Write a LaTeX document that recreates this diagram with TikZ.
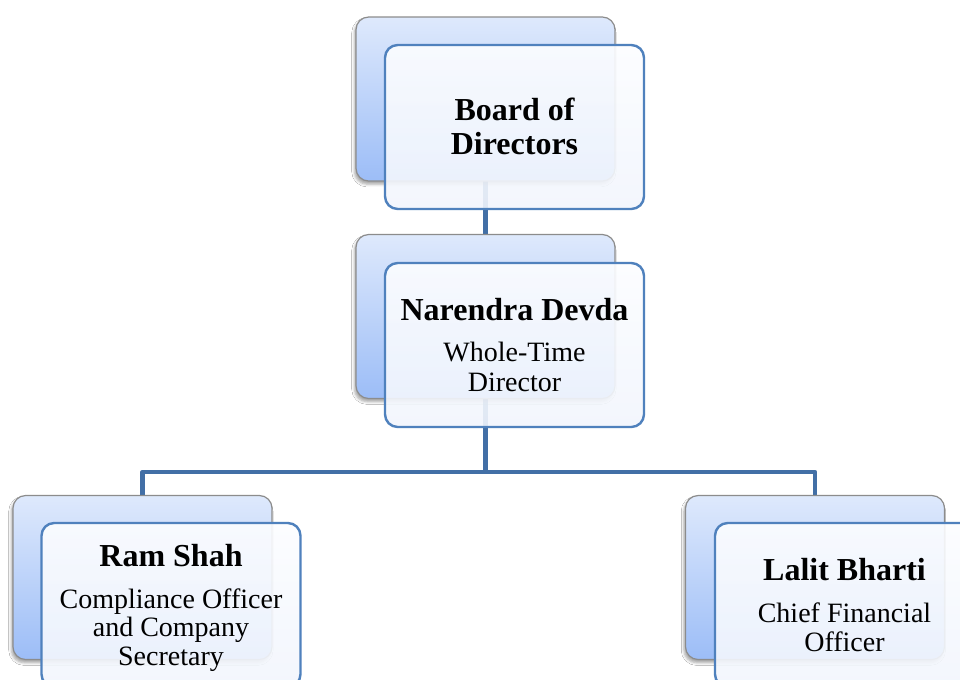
\documentclass[tikz,border=0pt]{standalone}
\usepackage{fontspec}
\setmainfont{Liberation Serif}
\usetikzlibrary{shadows.blur}
\definecolor{conncol}{RGB}{66,111,166}
\definecolor{frontborder}{RGB}{79,129,189}
\definecolor{backtop}{RGB}{222,233,252}
\definecolor{backbot}{RGB}{156,189,247}
\definecolor{backborder}{RGB}{140,140,140}
\definecolor{fronttop}{RGB}{252,253,255}
\definecolor{frontbot}{RGB}{242,246,253}
\tikzset{
  conn/.style={draw=conncol, line width=3.2pt, line join=round},
  backbox/.style={rectangle, rounded corners=9.5pt, draw=backborder, line width=0.9pt,
    top color=backtop, bottom color=backbot, minimum width=194.25pt, minimum height=123pt,
    inner sep=0pt, blur shadow={shadow xshift=-1.2pt, shadow yshift=-2.4pt, shadow blur radius=2pt, shadow opacity=35}},
  frontbox/.style={rectangle, rounded corners=9.5pt, draw=frontborder, line width=1.8pt,
    top color=fronttop, bottom color=frontbot, fill opacity=0.9, minimum width=194.25pt,
    minimum height=123pt, inner sep=0pt},
  titletxt/.style={anchor=base, inner sep=0pt, font=\fontsize{24}{26}\selectfont\bfseries},
  roletxt/.style={anchor=base, inner sep=0pt, font=\fontsize{21}{23}\selectfont},
}
\begin{document}
\begin{tikzpicture}[x=0.75pt,y=-0.75pt]
\useasboundingbox (0,0) rectangle (960,679);
\clip (0,0) rectangle (960,679);
\fill[white] (0,0) rectangle (960,679);

% coordinates for connectors
\coordinate (bodC) at (485.5,99);
\coordinate (wtdC) at (485.5,316.5);
\coordinate (bar) at (485.5,472);
\coordinate (ramC) at (142.5,577.5);
\coordinate (cfoC) at (815,577.5);

% connectors (behind boxes)
\draw[conn] (bodC) -- (wtdC);
\draw[conn] (wtdC) -- (bar) -| (ramC);
\draw[conn] (bar) -| (cfoC);

% Board of Directors
\node[backbox] (bodB) at (bodC) {};
\node[frontbox] (bodF) at (514.5,127) {};
\node[titletxt] (bodT1) at (514.5,120.7) {Board of};
\node[titletxt] (bodT2) at (514.5,154) {Directors};

% Narendra Devda
\node[backbox] (wtdB) at (wtdC) {};
\node[frontbox] (wtdF) at (514.5,345) {};
\node[titletxt] (wtdT1) at (514.5,320) {Narendra Devda};
\node[roletxt] (wtdT2) at (514.5,361.7) {Whole-Time};
\node[roletxt] (wtdT3) at (514.5,391.7) {Director};

% Ram Shah
\node[backbox] (ramB) at (ramC) {};
\node[frontbox] (ramF) at (171,605) {};
\node[titletxt] (ramT1) at (171,566) {Ram Shah};
\node[roletxt] (ramT2) at (171,608) {Compliance Officer};
\node[roletxt] (ramT3) at (171,636.7) {and Company};
\node[roletxt] (ramT4) at (171,665) {Secretary};

% Lalit Bharti
\node[backbox] (cfoB) at (cfoC) {};
\node[frontbox] (cfoF) at (844.5,605) {};
\node[titletxt] (cfoT1) at (844.5,580) {Lalit Bharti};
\node[roletxt] (cfoT2) at (844.5,622.7) {Chief Financial};
\node[roletxt] (cfoT3) at (844.5,651.7) {Officer};
\end{tikzpicture}
\end{document}
